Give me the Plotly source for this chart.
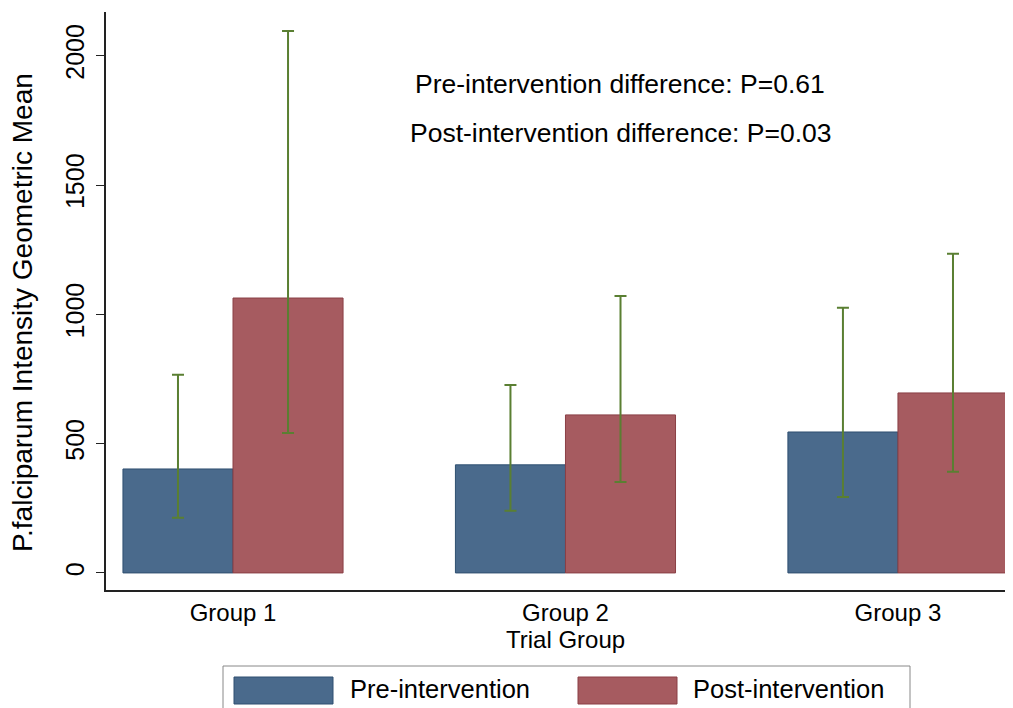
import plotly.graph_objects as go

groups = ["Group 1", "Group 2", "Group 3"]
pre_mean = [402, 418, 545]
pre_upper = [766, 727, 1025]
pre_lower = [213, 240, 294]
post_mean = [1063, 611, 696]
post_upper = [2096, 1071, 1234]
post_lower = [541, 352, 391]

BLUE = "#4a6a8c"
RED = "#a65b60"
GREEN = "#5a7f32"
FONT = "Liberation Sans, Arial, sans-serif"

def err(mean, up, lo):
    return dict(type="data", symmetric=False,
                array=[u - m for u, m in zip(up, mean)],
                arrayminus=[m - l for m, l in zip(mean, lo)],
                color=GREEN, thickness=2, width=6)

fig = go.Figure()
fig.add_trace(go.Bar(x=groups, y=pre_mean, name="Pre-intervention",
                     marker=dict(color=BLUE, line=dict(color="#2f4f70", width=1)),
                     error_y=err(pre_mean, pre_upper, pre_lower)))
fig.add_trace(go.Bar(x=groups, y=post_mean, name="Post-intervention",
                     marker=dict(color=RED, line=dict(color="#8a3f45", width=1)),
                     error_y=err(post_mean, post_upper, post_lower)))

# page body has an 8px margin; figure sized to fit the window
OFF = 8
W, H = 1005, 700
ML, MR, MT, MB = 98, 0, 4, 118

fig.update_layout(
    width=W, height=H,
    margin=dict(l=ML, r=MR, t=MT, b=MB, autoexpand=False),
    barmode="group", bargap=0.338, bargroupgap=0,
    plot_bgcolor="white", paper_bgcolor="white",
    showlegend=False,
    font=dict(family=FONT, size=24, color="black"),
)
fig.update_xaxes(range=[-0.382, 2.346], showline=True, linecolor="#222", linewidth=1.5,
                 ticks="", showgrid=False, automargin=False,
                 tickfont=dict(size=24))
fig.update_yaxes(range=[-66, 2169], showline=True, linecolor="#222", linewidth=1.5,
                 ticks="outside", ticklen=8, tickcolor="#222", tickwidth=1.2,
                 tickvals=[0, 500, 1000, 1500, 2000], tickangle=-90,
                 ticklabelstandoff=2,
                 showgrid=False, zeroline=False, automargin=False,
                 tickfont=dict(size=25))

pw, ph = W - ML - MR, H - MT - MB
def px(xw): return (xw - OFF - ML) / pw
def py(yw): return (H - MB - (yw - OFF)) / ph

def note(text, xw, yw, size, xanchor="center", angle=0):
    fig.add_annotation(text=text, xref="paper", yref="paper", x=px(xw), y=py(yw),
                       xanchor=xanchor, yanchor="middle", textangle=angle,
                       showarrow=False, font=dict(size=size))

# axis titles
note("Trial Group", 565, 639, 24)
note("P.falciparum Intensity Geometric Mean", 22, 313, 28, angle=-90)

# p-value notes
note("Pre-intervention difference: P=0.61", 620, 84, 26.5)
note("Post-intervention difference: P=0.03", 621, 133, 26.5)

# legend
fig.add_shape(type="rect", xref="paper", yref="paper", x0=px(223), x1=px(910), y0=py(716), y1=py(666),
              line=dict(color="#888", width=1), fillcolor="white")
fig.add_shape(type="rect", xref="paper", yref="paper", x0=px(234), x1=px(333), y0=py(704), y1=py(677),
              line=dict(color="#2f4f70", width=1), fillcolor=BLUE)
fig.add_shape(type="rect", xref="paper", yref="paper", x0=px(578), x1=px(677), y0=py(704), y1=py(677),
              line=dict(color="#8a3f45", width=1), fillcolor=RED)
note("Pre-intervention", 348, 689, 25.5, xanchor="left")
note("Post-intervention", 691, 689, 25.5, xanchor="left")

fig.write_html("out.html")
